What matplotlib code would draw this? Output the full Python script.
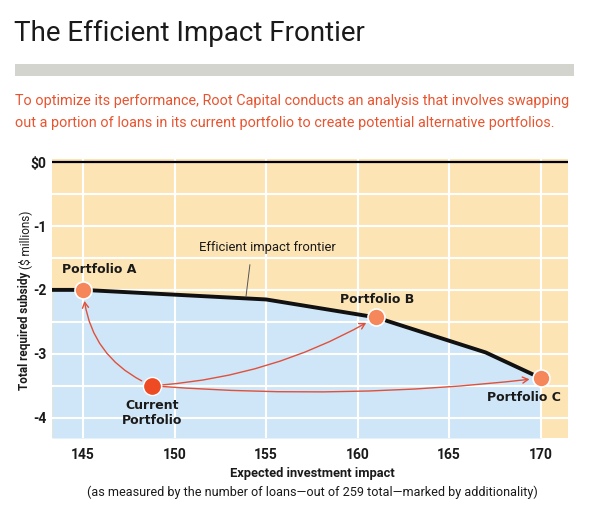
import matplotlib.pyplot as plt
from matplotlib.patches import Rectangle, FancyArrowPatch

# efficient impact frontier (impact vs. total required subsidy, $ millions)
frontier_x = [143.3, 145, 155, 161, 167, 170]
frontier_y = [-2.0, -2.0, -2.15, -2.43, -2.98, -3.38]

portfolio_names = ['Portfolio A', 'Portfolio B', 'Portfolio C']
portfolio_x = [145, 161, 170]
portfolio_y = [-2.0, -2.43, -3.38]

current_x = 148.75
current_y = -3.5

x_ticks = [145, 150, 155, 160, 165, 170]
y_ticks = [0, -1, -2, -3, -4]
y_tick_labels = [r'\$0', '-1', '-2', '-3', '-4']

NARROW = ['Roboto', 'DejaVu Sans']
ORANGE_BG = '#fde4b5'
BLUE = '#cee6f8'
POINT = '#f6875b'
CURRENT = '#ee4a24'
ARROW = '#e0503a'
INK = '#1a1a1a'

fig = plt.figure(figsize=(5.92, 5.21), dpi=100)
fig.patch.set_facecolor('white')

# header
fig.text(14 / 592, 1 - 33 / 521, 'The Efficient Impact Frontier', fontsize=20,
         family=NARROW, color=INK, va='center', ha='left')
fig.patches.append(Rectangle((15 / 592, 1 - 76 / 521), 559 / 592, 12 / 521,
                             transform=fig.transFigure, color='#d3d4ce', lw=0))
fig.text(15 / 592, 1 - 101 / 521,
         'To optimize its performance, Root Capital conducts an analysis that involves swapping',
         fontsize=10.4, family=NARROW, color='#e8542f', va='center', ha='left')
fig.text(15 / 592, 1 - 123 / 521,
         'out a portion of loans in its current portfolio to create potential alternative portfolios.',
         fontsize=10.4, family=NARROW, color='#e8542f', va='center', ha='left')

ax = fig.add_axes([52 / 592, 1 - 438 / 521, 516 / 592, 279 / 521])
ax.set_facecolor(ORANGE_BG)
ax.set_xlim(143.3, 171.5)
ax.set_ylim(-4.32, 0.05)

ax.fill_between(frontier_x, frontier_y, -4.32, color=BLUE, lw=0, zorder=1)

for x in x_ticks:
    ax.axvline(x, color='white', lw=1.5, zorder=2)
for y in [-4, -3.5, -3, -2.5, -2, -1.5, -1, -0.5]:
    ax.axhline(y, color='white', lw=1.5, zorder=2)
ax.axhline(0, color='black', lw=1.6, zorder=3)

ax.plot(frontier_x, frontier_y, color='#111111', lw=2.8, zorder=4, solid_capstyle='butt')

for s in ax.spines.values():
    s.set_visible(False)
ax.set_xticks(x_ticks)
ax.set_yticks(y_ticks)
ax.set_yticklabels(y_tick_labels)
ax.tick_params(length=0)
ax.tick_params(axis='x', pad=7)
ax.tick_params(axis='y', pad=4)
for lab in ax.get_xticklabels() + ax.get_yticklabels():
    lab.set_family(NARROW)
    lab.set_fontweight('bold')
    lab.set_fontsize(10)
    lab.set_color(INK)

# arrows from the current portfolio
rads = [-0.3, 0.12, 0.05]
for px, py, r in zip(portfolio_x, portfolio_y, rads):
    arr = FancyArrowPatch((current_x, current_y), (px, py),
                          connectionstyle='arc3,rad=%s' % r,
                          arrowstyle='->,head_length=4,head_width=2.2',
                          color=ARROW, lw=1.0, shrinkA=8, shrinkB=8, zorder=5)
    ax.add_patch(arr)

ax.scatter(portfolio_x, portfolio_y, s=150, color=POINT, edgecolor='white',
           linewidth=1.2, zorder=6)
ax.scatter([current_x], [current_y], s=170, color=CURRENT, edgecolor='white',
           linewidth=1.0, zorder=6)

label_pos = [(145.9, -1.68), (161.07, -2.15), (169.07, -3.68)]
for name, (lx, ly) in zip(portfolio_names, label_pos):
    ax.text(lx, ly, name, fontsize=9, fontweight='bold', color=INK,
            ha='center', va='center', zorder=7)
ax.text(148.75, -3.93, 'Current\nPortfolio', fontsize=9, fontweight='bold',
        color=INK, ha='center', va='center', linespacing=1.15, zorder=7)

ax.annotate('Efficient impact frontier', xy=(153.9, -2.11), xytext=(151.35, -1.33),
            fontsize=9.4, family=NARROW, color=INK, ha='left', va='center',
            arrowprops=dict(arrowstyle='-', color='#555555', lw=0.7,
                            shrinkA=6, shrinkB=0, relpos=(0.38, 0)),
            zorder=7)

# axis titles
fig.text(312 / 592, 1 - 473 / 521, 'Expected investment impact', fontsize=9.3,
         family=NARROW, fontweight='bold', color=INK, ha='center', va='center')
fig.text(312 / 592, 1 - 492 / 521,
         '(as measured by the number of loans\u2014out of 259 total\u2014marked by additionality)',
         fontsize=9.1, family=NARROW, color=INK, ha='center', va='center')

fig.canvas.draw()
t1 = fig.text(25 / 592, 1 - 390 / 521, 'Total required subsidy', rotation=90,
              fontsize=8.5, family=NARROW, fontweight='bold', color=INK,
              ha='center', va='bottom')
bb = t1.get_window_extent(fig.canvas.get_renderer())
fig.text(25 / 592, (bb.y1 + 3) / fig.bbox.height, '($ millions)', rotation=90,
         fontsize=8.5, family=NARROW, color=INK, ha='center', va='bottom')

fig.savefig('out.png', dpi=100)
